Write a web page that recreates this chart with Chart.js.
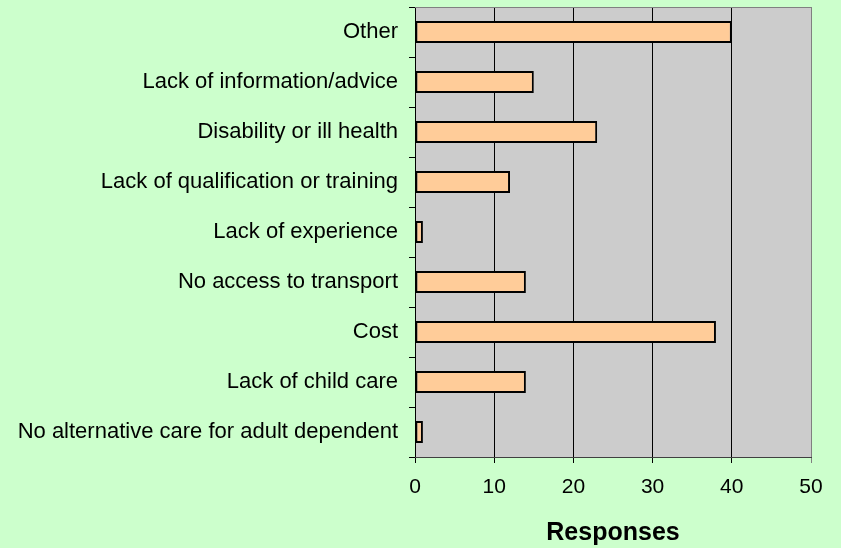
<!DOCTYPE html>
<html>
<head>
<meta charset="utf-8">
<script src="https://cdn.jsdelivr.net/npm/chart.js@4/dist/chart.umd.min.js"></script>
<style>
  html, body { margin: 0; padding: 0; background: #CCFFCC; }
  canvas { display: block; }
</style>
</head>
<body>
<canvas id="barriers-chart" width="841" height="548"></canvas>
<script>
var categories = ["Other", "Lack of information/advice", "Disability or ill health",
  "Lack of qualification or training", "Lack of experience", "No access to transport",
  "Cost", "Lack of child care", "No alternative care for adult dependent"];
var responses = [40, 15, 23, 12, 1, 14, 38, 14, 1];
var xTicks = [0, 10, 20, 30, 40, 50];

// page + plot area fills, top/right frame of plot
var backdrop = {
  id: 'backdrop',
  beforeDraw: function (chart) {
    var c = chart.ctx, a = chart.chartArea;
    c.save();
    c.fillStyle = '#CCFFCC';
    c.fillRect(0, 0, chart.width, chart.height);
    c.fillStyle = '#CCCCCC';
    c.fillRect(a.left, a.top, a.right - a.left, a.bottom - a.top);
    c.restore();
  },
  afterDatasetsDraw: function (chart) {
    var c = chart.ctx, a = chart.chartArea;
    c.save();
    c.strokeStyle = '#808080';
    c.lineWidth = 1;
    c.beginPath();
    c.moveTo(a.left, a.top + 0.5);
    c.lineTo(a.right + 0.5, a.top + 0.5);
    c.lineTo(a.right + 0.5, a.bottom);
    c.stroke();
    c.restore();
  }
};

Chart.defaults.font.family = '"Liberation Sans", Arial, sans-serif';
Chart.defaults.color = '#000';

new Chart(document.getElementById('barriers-chart'), {
  type: 'bar',
  data: {
    labels: categories,
    datasets: [{
      label: 'Responses',
      data: responses,
      backgroundColor: '#FFCC99',
      borderColor: '#000',
      borderWidth: 2,
      borderSkipped: false,
      barPercentage: 0.44,
      categoryPercentage: 1
    }]
  },
  options: {
    indexAxis: 'y',
    responsive: false,
    animation: false,
    layout: { padding: { top: 7, right: 30, left: 0, bottom: 0 } },
    plugins: { legend: { display: false }, tooltip: { enabled: false } },
    scales: {
      y: {
        afterFit: function (s) { s.width = 415; s.paddingTop = 0; s.paddingBottom = 0; },
        grid: { offset: true, drawOnChartArea: false, tickLength: 6, color: '#000' },
        border: { color: '#000', width: 1 },
        ticks: { font: { size: 22 }, padding: 11, color: '#000' }
      },
      x: {
        min: 0, max: 50,
        afterFit: function (s) { s.height = 91; s.paddingRight = 0; s.paddingLeft = 0; },
        afterBuildTicks: function (s) { s.ticks = xTicks.map(function (v) { return { value: v }; }); },
        grid: {
          tickLength: 6,
          color: function (ctx) { return ctx.tick && ctx.tick.value === 50 ? '#808080' : '#000'; }
        },
        border: { color: '#404040', width: 1 },
        ticks: { font: { size: 21 }, padding: 12, color: '#000' },
        title: {
          display: true, text: 'Responses',
          font: { size: 25, weight: 'bold' },
          padding: { top: 0, bottom: 0 }
        }
      }
    }
  },
  plugins: [backdrop]
});
</script>
</body>
</html>
